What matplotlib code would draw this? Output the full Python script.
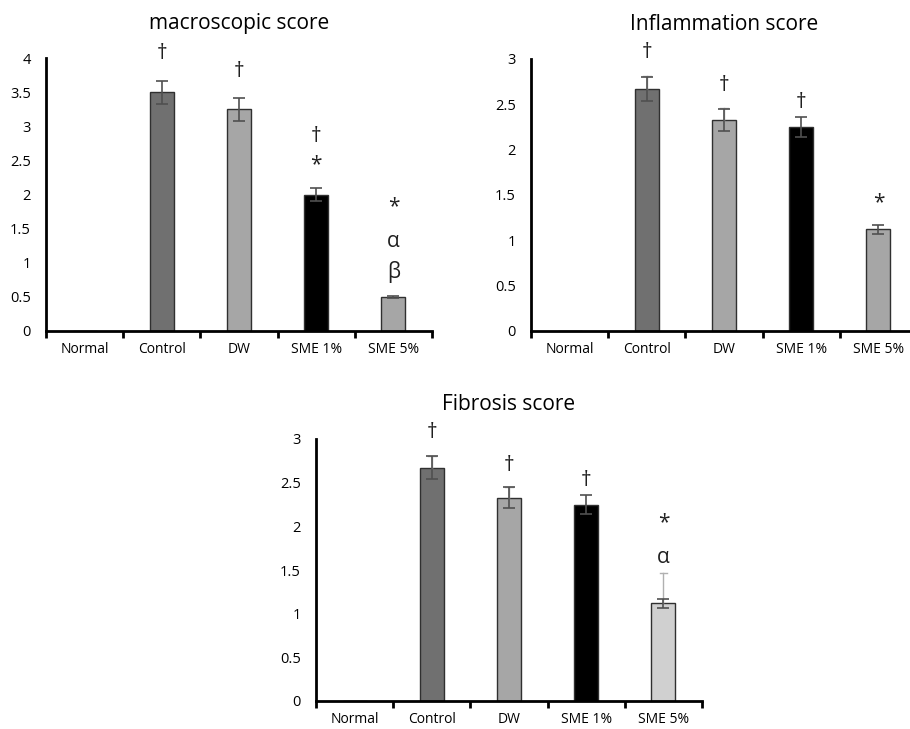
import numpy as np
import matplotlib as mpl
import matplotlib.pyplot as plt

mpl.use('Agg')
plt.rcParams['font.family'] = ['Open Sans', 'DejaVu Sans']

# --- data -----------------------------------------------------------------------
groups = ['Normal', 'Control', 'DW', 'SME 1%', 'SME 5%']

macro_means = [0, 3.5, 3.25, 2.0, 0.5]
macro_err = [0, 0.17, 0.17, 0.10, 0.02]
macro_light = [np.nan, np.nan, np.nan, np.nan, np.nan]
macro_marks = [(1, 4.07, '†'), (2, 3.80, '†'), (3, 2.85, '†'), (3, 2.43, '*'),
               (4, 1.82, '*'), (4, 1.31, 'α'), (4, 0.87, 'β')]

infl_means = [0, 2.67, 2.33, 2.25, 1.12]
infl_err = [0, 0.13, 0.12, 0.11, 0.05]
infl_light = [np.nan, 2.81, 2.46, np.nan, np.nan]
infl_marks = [(1, 3.07, '†'), (2, 2.71, '†'), (3, 2.52, '†'), (4, 1.41, '*')]

fib_means = [0, 2.67, 2.33, 2.25, 1.12]
fib_err = [0, 0.13, 0.12, 0.11, 0.05]
fib_light = [np.nan, 2.81, 2.45, np.nan, 1.47]
fib_marks = [(1, 3.07, '†'), (2, 2.70, '†'), (3, 2.52, '†'), (4, 2.04, '*'), (4, 1.64, 'α')]

# --- styles ---------------------------------------------------------------------
DARK, MID, BLACK, LIGHT = '#707070', '#a6a6a6', '#000000', '#d0d0d0'
PANELS = [
    # title, means, err, light upper bars, marks, yticks, colours, axes rect (fig fraction)
    ('macroscopic score', macro_means, macro_err, macro_light, macro_marks,
     np.arange(0, 4.01, 0.5), [MID, DARK, MID, BLACK, MID],
     [46 / 910, 1 - 331 / 729, 386 / 910, 273 / 729]),
    ('Inflammation score', infl_means, infl_err, infl_light, infl_marks,
     np.arange(0, 3.01, 0.5), [MID, DARK, MID, BLACK, MID],
     [531 / 910, 1 - 331 / 729, 386 / 910, 272 / 729]),
    ('Fibrosis score', fib_means, fib_err, fib_light, fib_marks,
     np.arange(0, 3.01, 0.5), [MID, DARK, MID, BLACK, LIGHT],
     [316 / 910, 1 - 701 / 729, 386 / 910, 262 / 729]),
]

fig = plt.figure(figsize=(9.1, 7.29), dpi=100)

for title, means, err, light, marks, yticks, colours, rect in PANELS:
    ax = fig.add_axes(rect)
    x = np.arange(len(groups))
    ax.bar(x, means, width=0.31, color=colours, edgecolor='#303030', linewidth=1.0, zorder=2)

    # light grey upper whiskers (faint overlay in the original)
    for xi, m, lt in zip(x, means, light):
        if np.isfinite(lt):
            ax.plot([xi, xi], [m, lt], color='#b0b0b0', lw=1.0, zorder=3)
            ax.plot([xi - 0.05, xi + 0.05], [lt, lt], color='#b0b0b0', lw=1.0, zorder=3)

    # dark error bars
    has_err = [i for i, e in enumerate(err) if e > 0]
    ax.errorbar(x[has_err], np.array(means)[has_err], yerr=np.array(err)[has_err],
                fmt='none', ecolor='#505050', elinewidth=1.2, capsize=4, capthick=1.2, zorder=4)

    for xi, yv, sym in marks:
        ax.text(xi, yv, sym, ha='center', va='center', fontsize=15, color='#202020')

    ax.set_xlim(-0.5, 4.5)
    ax.set_ylim(0, yticks[-1])
    ax.set_yticks(yticks)
    ax.set_yticklabels([f'{t:g}' for t in yticks], fontsize=10.5)
    ax.tick_params(axis='y', length=0, pad=11)
    ax.set_xticks(x)
    ax.set_xticklabels(groups, fontsize=10)
    ax.tick_params(axis='x', which='major', length=0, pad=8)
    ax.set_xticks(np.arange(-0.5, 4.51, 1), minor=True)
    ax.tick_params(axis='x', which='minor', length=5, width=2, direction='out')

    for side in ('top', 'right'):
        ax.spines[side].set_visible(False)
    ax.spines['left'].set_linewidth(2)
    ax.spines['bottom'].set_linewidth(2)
    ax.set_title(title, fontsize=15, pad=21)

fig.savefig('out.png', dpi=100)
